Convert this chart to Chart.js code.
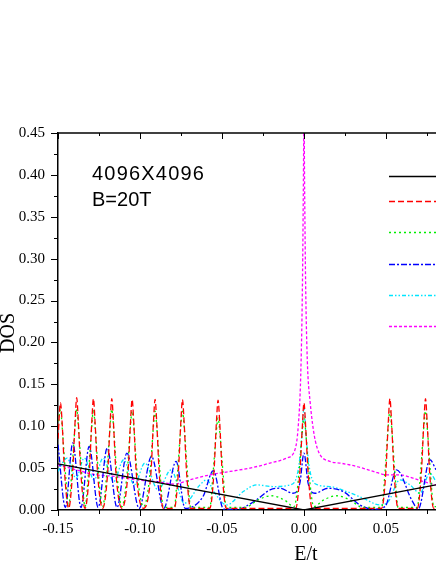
<!DOCTYPE html>
<html>
<head>
<meta charset="utf-8">
<script src="https://cdn.jsdelivr.net/npm/chart.js@4.4.1/dist/chart.umd.min.js"></script>
<style>
  body { margin: 0; background: #fff; }
  #wrap { width: 436px; height: 564px; }
</style>
</head>
<body>
<div id="wrap"><canvas id="dosChart"></canvas></div>
<script>
// values: energy E/t and DOS for each curve
const eBlack = [-0.15, 0, 0.0805]
const dosBlack = [0.055, 0, 0.030]

const eRed = [
  -0.15, -0.1485, -0.1475, -0.146, -0.1435,
  -0.1411, -0.1396, -0.1386, -0.1376, -0.1361,
  -0.1335,
  -0.1309, -0.1294, -0.1284, -0.1274, -0.1259,
  -0.1228,
  -0.1197, -0.1182, -0.1172, -0.1162, -0.1147,
  -0.111,
  -0.1073, -0.1058, -0.1048, -0.1038, -0.1023,
  -0.0978,
  -0.0933, -0.0918, -0.0908, -0.0898, -0.0883,
  -0.0858, -0.0791,
  -0.0766, -0.0751, -0.0741, -0.0731, -0.0716,
  -0.0691, -0.0574,
  -0.0549, -0.0534, -0.0524, -0.0514, -0.0499,
  -0.0474, -0.005,
  -0.0025, -0.001, 0, 0.001, 0.0025,
  0.005, 0.0474,
  0.0499, 0.0514, 0.0524, 0.0534, 0.0549,
  0.0574, 0.0691,
  0.0716, 0.0731, 0.0741, 0.0751, 0.0766,
  0.0791, 0.0805]
const dosRed = [
  0.085, 0.128, 0.105, 0.045, 0.002,
  0.045, 0.105, 0.134, 0.105, 0.045,
  0.002,
  0.045, 0.105, 0.133, 0.105, 0.045,
  0.002,
  0.045, 0.105, 0.133, 0.105, 0.045,
  0.002,
  0.045, 0.105, 0.132, 0.105, 0.045,
  0.002,
  0.045, 0.105, 0.132, 0.105, 0.045,
  0.002, 0.002,
  0.045, 0.105, 0.132, 0.105, 0.045,
  0.002, 0.002,
  0.045, 0.105, 0.131, 0.105, 0.045,
  0.002, 0.002,
  0.045, 0.100, 0.128, 0.100, 0.045,
  0.002, 0.002,
  0.045, 0.105, 0.133, 0.105, 0.045,
  0.002, 0.002,
  0.045, 0.105, 0.133, 0.105, 0.045,
  0.002, 0.002]

const eGreen = [
  -0.15, -0.1485, -0.1473, -0.1455, -0.1435,
  -0.1416, -0.1398, -0.1386, -0.1374, -0.1356,
  -0.1335,
  -0.1314, -0.1296, -0.1284, -0.1272, -0.1254,
  -0.1228,
  -0.1202, -0.1184, -0.1172, -0.116, -0.1142,
  -0.111,
  -0.1078, -0.106, -0.1048, -0.1036, -0.1018,
  -0.0978,
  -0.0938, -0.092, -0.0908, -0.0896, -0.0878,
  -0.0858, -0.0791,
  -0.0771, -0.0753, -0.0741, -0.0729, -0.0711,
  -0.0691, -0.0574,
  -0.0554, -0.0536, -0.0524, -0.0512, -0.0494,
  -0.0474, -0.036, -0.028, -0.02, -0.012, -0.006,
  -0.003, -0.0012, 0, 0.0012, 0.003,
  0.006, 0.012, 0.02, 0.028, 0.036, 0.0474,
  0.0494, 0.0512, 0.0524, 0.0536, 0.0554,
  0.0574, 0.0691,
  0.0711, 0.0729, 0.0741, 0.0753, 0.0771,
  0.0791, 0.0805]
const dosGreen = [
  0.10, 0.12, 0.095, 0.045, 0.004,
  0.045, 0.095, 0.12, 0.095, 0.045,
  0.004,
  0.045, 0.095, 0.12, 0.095, 0.045,
  0.004,
  0.045, 0.095, 0.12, 0.095, 0.045,
  0.004,
  0.045, 0.095, 0.118, 0.095, 0.045,
  0.004,
  0.045, 0.095, 0.118, 0.095, 0.045,
  0.003, 0.003,
  0.045, 0.095, 0.118, 0.095, 0.045,
  0.003, 0.003,
  0.045, 0.09, 0.11, 0.09, 0.045,
  0.003, 0.003, 0.012, 0.017, 0.012, 0.004,
  0.045, 0.09, 0.11, 0.09, 0.045,
  0.004, 0.012, 0.017, 0.012, 0.003, 0.003,
  0.045, 0.095, 0.118, 0.095, 0.045,
  0.003, 0.003,
  0.045, 0.095, 0.118, 0.095, 0.045,
  0.004, 0.004]

const eBlue = [
  -0.15, -0.1455, -0.141, -0.136, -0.131, -0.1255, -0.120, -0.114, -0.108, -0.1005,
  -0.093, -0.0855, -0.078, -0.0725, -0.0616, -0.0553, -0.049, -0.040, -0.034, -0.029,
  -0.0207, -0.0146, -0.0067, -0.0025, 0, 0.0025, 0.0067, 0.0146, 0.024, 0.0341,
  0.0423, 0.0494, 0.0565, 0.0657, 0.0697, 0.0768, 0.0805]
const dosBlue = [
  0.078, 0.003, 0.080, 0.003, 0.076, 0.003, 0.074, 0.003, 0.068, 0.002,
  0.064, 0.002, 0.058, 0.002, 0.016, 0.047, 0.001, 0.001, 0.006, 0.012,
  0.024, 0.026, 0.020, 0.032, 0.068, 0.032, 0.020, 0.026, 0.022, 0.006,
  0.001, 0.004, 0.048, 0.012, 0.001, 0.060, 0.048]

const eCyan = [
  -0.15, -0.1445, -0.139, -0.134, -0.128, -0.1225, -0.116, -0.110, -0.1035, -0.097,
  -0.089, -0.081, -0.073, -0.0634, -0.0593, -0.055, -0.0472, -0.037, -0.0288, -0.0189,
  -0.0085, -0.0035, -0.0012, 0, 0.0012, 0.0035, 0.0085, 0.0159, 0.026, 0.0362,
  0.0463, 0.0514, 0.0585, 0.0646, 0.0707, 0.0768, 0.0805]
const dosCyan = [
  0.046, 0.062, 0.038, 0.062, 0.036, 0.062, 0.034, 0.060, 0.030, 0.056,
  0.024, 0.048, 0.008, 0.030, 0.036, 0.022, 0.006, 0.022, 0.030, 0.028,
  0.030, 0.048, 0.090, 0.122, 0.090, 0.048, 0.030, 0.028, 0.022, 0.014,
  0.006, 0.010, 0.036, 0.030, 0.020, 0.044, 0.034]

const eMagenta = [
  -0.15, -0.139, -0.1268, -0.1146, -0.1024, -0.090, -0.079, -0.0695, -0.0573, -0.0451,
  -0.0329, -0.0207, -0.0105, -0.0055, -0.0035, -0.002, -0.001, -0.0004, 0, 0.0004,
  0.001, 0.002, 0.0037, 0.0079, 0.0159, 0.022, 0.0321, 0.0423, 0.0504, 0.0585,
  0.0665, 0.0728, 0.0805]
const dosMagenta = [
  0.054, 0.048, 0.042, 0.040, 0.036, 0.034, 0.031, 0.036, 0.042, 0.046,
  0.050, 0.056, 0.062, 0.072, 0.10, 0.16, 0.26, 0.38, 0.47, 0.38,
  0.27, 0.18, 0.13, 0.075, 0.058, 0.056, 0.052, 0.046, 0.042, 0.042,
  0.038, 0.034, 0.030]

// tick values of the axes
const xMajor = [-0.15, -0.10, -0.05, 0, 0.05]
const xMinor = [-0.125, -0.075, -0.025, 0.025, 0.075]
const yMajor = [0, 0.05, 0.10, 0.15, 0.20, 0.25, 0.30, 0.35, 0.40, 0.45]
const yMinor = [0.025, 0.075, 0.125, 0.175, 0.225, 0.275, 0.325, 0.375, 0.425]

const sizeLabel = '4096X4096'
const fieldLabel = 'B=20T'

const serif = '"Liberation Serif", "Times New Roman", serif'
const sans = '"Liberation Sans", Arial, sans-serif'

const toPoints = (xs, ys) => xs.map((x, i) => ({ x: x, y: ys[i] }))
const fmt = (v) => (Math.abs(v) < 1e-9 ? 0 : v).toFixed(2)

const datasets = [
  { label: 'curve 1', data: toPoints(eBlack, dosBlack), borderColor: '#000000', borderDash: [], tension: 0, cubicInterpolationMode: 'default' },
  { label: 'curve 2', data: toPoints(eRed, dosRed), borderColor: '#ff0000', borderDash: [6, 3] },
  { label: 'curve 3', data: toPoints(eGreen, dosGreen), borderColor: '#00ee00', borderDash: [2, 3] },
  { label: 'curve 4', data: toPoints(eBlue, dosBlue), borderColor: '#0000ff', borderDash: [6, 2, 2, 2] },
  { label: 'curve 5', data: toPoints(eCyan, dosCyan), borderColor: '#00e5ff', borderDash: [4, 2, 1.5, 2, 1.5, 2] },
  { label: 'curve 6', data: toPoints(eMagenta, dosMagenta), borderColor: '#ff00ff', borderDash: [3, 2] }
]

// frame, ticks, legend lines and texts
const decorations = {
  id: 'decorations',
  afterDraw(chart) {
    const { ctx, chartArea: a, scales: { x, y } } = chart
    ctx.save()
    ctx.strokeStyle = '#000'
    ctx.lineWidth = 1.5
    ctx.beginPath()
    ctx.moveTo(a.left, a.top)
    ctx.lineTo(a.right, a.top)
    ctx.stroke()

    ctx.lineWidth = 1
    ctx.beginPath()
    xMajor.forEach(v => {
      const px = Math.round(x.getPixelForValue(v)) + 0.5
      ctx.moveTo(px, a.bottom); ctx.lineTo(px, a.bottom + 6)
      ctx.moveTo(px, a.top); ctx.lineTo(px, a.top + 6)
    })
    xMinor.forEach(v => {
      const px = Math.round(x.getPixelForValue(v)) + 0.5
      ctx.moveTo(px, a.bottom); ctx.lineTo(px, a.bottom + 4)
      ctx.moveTo(px, a.top); ctx.lineTo(px, a.top + 3)
    })
    yMajor.forEach(v => {
      const py = Math.round(y.getPixelForValue(v)) + 0.5
      ctx.moveTo(a.left, py); ctx.lineTo(a.left - 7, py)
    })
    yMinor.forEach(v => {
      const py = Math.round(y.getPixelForValue(v)) + 0.5
      ctx.moveTo(a.left, py); ctx.lineTo(a.left - 4, py)
    })
    ctx.stroke()

    // legend samples (the labels fall outside the picture)
    const legendY = [176, 201, 232, 264, 295, 326]
    chart.data.datasets.forEach((ds, i) => {
      ctx.strokeStyle = ds.borderColor
      ctx.lineWidth = 1.3
      ctx.setLineDash(ds.borderDash || [])
      ctx.beginPath()
      ctx.moveTo(389, legendY[i] + 0.5)
      ctx.lineTo(436, legendY[i] + 0.5)
      ctx.stroke()
    })
    ctx.setLineDash([])

    ctx.fillStyle = '#000'
    ctx.font = '20px ' + sans
    ctx.textAlign = 'left'
    ctx.textBaseline = 'alphabetic'
    ctx.letterSpacing = '1.2px'
    ctx.fillText(sizeLabel, 92, 180)
    ctx.letterSpacing = '0px'
    ctx.fillText(fieldLabel, 92, 206)

    ctx.font = '20px ' + serif
    ctx.textAlign = 'center'
    ctx.textBaseline = 'middle'
    ctx.fillText('E/t', 306, 555)
    ctx.translate(9, 333)
    ctx.rotate(-Math.PI / 2)
    ctx.fillText('DOS', 0, 0)
    ctx.restore()
  }
}

const config = {
  type: 'line',
  data: { datasets: datasets },
  options: {
    responsive: true,
    maintainAspectRatio: false,
    animation: false,
    layout: { padding: { top: 133, right: 0, left: 0, bottom: 0 } },
    plugins: { legend: { display: false }, tooltip: { enabled: false } },
    elements: {
      point: { radius: 0 },
      line: { borderWidth: 1.3, cubicInterpolationMode: 'monotone', fill: false }
    },
    scales: {
      x: {
        type: 'linear',
        min: -0.15,
        max: 0.0805,
        afterFit: (s) => { s.height = 54 },
        afterBuildTicks: (s) => { s.ticks = xMajor.map(v => ({ value: v })) },
        grid: { display: false, drawTicks: false },
        border: { display: true, color: '#000', width: 1.5 },
        ticks: {
          padding: 10, color: '#000',
          maxRotation: 0, autoSkip: false,
          font: { family: serif, size: 15 },
          callback: (v) => fmt(v)
        }
      },
      y: {
        min: 0,
        max: 0.45,
        afterFit: (s) => { s.width = 58 },
        afterBuildTicks: (s) => { s.ticks = yMajor.map(v => ({ value: v })) },
        grid: { display: false, drawTicks: false },
        border: { display: true, color: '#000', width: 1.5 },
        ticks: {
          padding: 13, color: '#000', autoSkip: false,
          font: { family: serif, size: 15 },
          callback: (v) => fmt(v)
        }
      }
    }
  },
  plugins: [decorations]
}

const dosChart = new Chart(document.getElementById('dosChart'), config)
</script>
</body>
</html>
